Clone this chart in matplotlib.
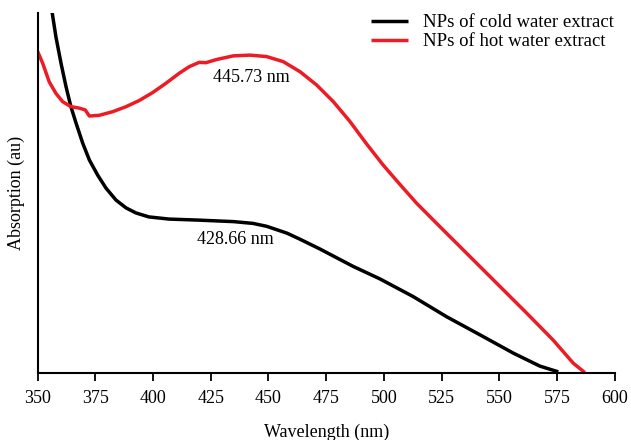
import numpy as np
import matplotlib
matplotlib.use('Agg')
import matplotlib.pyplot as plt

# values (absorption in arbitrary units, 0..1 = axis height)
cold_wl = [355.5, 356.5, 357.9, 360.1, 362.3, 364.4, 366.6, 369.5, 372.4, 376.0, 379.6, 383.9,
           388.3, 392.6, 398.2, 406.9, 420.3, 427.3, 434.8, 443.3, 449.2, 458.0, 463.7, 472.3,
           486.6, 498.3, 512.7, 527.2, 541.6, 556.1, 567.6, 575.6]
cold_abs = [1.032, 0.992, 0.934, 0.861, 0.795, 0.740, 0.695, 0.639, 0.592, 0.550, 0.514, 0.481,
            0.459, 0.445, 0.434, 0.428, 0.425, 0.423, 0.421, 0.416, 0.408, 0.389, 0.372, 0.345,
            0.297, 0.262, 0.213, 0.157, 0.107, 0.056, 0.020, 0.004]

hot_wl = [350.0, 352.2, 355.0, 357.9, 360.8, 364.4, 368.0, 370.6, 372.4, 376.7, 382.5, 388.3,
          394.0, 399.8, 405.6, 411.4, 415.7, 420.0, 422.9, 427.6, 434.8, 442.0, 449.2, 456.4,
          463.7, 470.9, 478.1, 485.3, 492.6, 499.7, 507.0, 514.2, 524.3, 535.9, 548.9, 561.9,
          573.4, 582.1, 587.1]
hot_abs = [0.893, 0.860, 0.809, 0.777, 0.754, 0.740, 0.736, 0.731, 0.714, 0.716, 0.726, 0.740,
           0.757, 0.779, 0.805, 0.833, 0.851, 0.863, 0.862, 0.871, 0.881, 0.883, 0.879, 0.865,
           0.837, 0.800, 0.754, 0.699, 0.636, 0.578, 0.524, 0.472, 0.407, 0.333, 0.250, 0.167,
           0.092, 0.028, 0.002]

xticks = [350, 375, 400, 425, 450, 475, 500, 525, 550, 575, 600]

plt.rcParams['font.family'] = ['Liberation Serif', 'DejaVu Serif']
plt.rcParams['font.size'] = 13

fig = plt.figure(figsize=(6.31, 4.40), dpi=100)
ax = fig.add_axes([0.0597, 0.1516, 0.9143, 0.8189])

ax.plot(cold_wl, cold_abs, color='black', lw=2.5, label='NPs of cold water extract',
        solid_capstyle='butt', solid_joinstyle='round')
ax.plot(hot_wl, hot_abs, color='#ed1c24', lw=2.5, label='NPs of hot water extract',
        solid_capstyle='butt', solid_joinstyle='round')

ax.text(442.4, 0.820, '445.73 nm', ha='center', va='center')
ax.text(435.5, 0.370, '428.66 nm', ha='center', va='center')

ax.set_xlim(350, 600)
ax.set_ylim(0, 1.0)
ax.set_xticks(xticks)
ax.set_yticks([])
ax.tick_params(axis='x', direction='out', length=6, width=1.3, pad=6)
ax.set_xlabel('Wavelength (nm)', labelpad=12)
ax.set_ylabel('Absorption (au)', labelpad=9)

ax.spines['top'].set_visible(False)
ax.spines['right'].set_visible(False)
ax.spines['left'].set_linewidth(1.5)
ax.spines['bottom'].set_linewidth(1.5)

fig.legend(loc='upper right', bbox_to_anchor=(1.0, 1.006), frameon=False,
           prop={'size': 13.5}, handlelength=2.0, handletextpad=0.8, labelspacing=0.1)

fig.savefig('out.png', dpi=100)
